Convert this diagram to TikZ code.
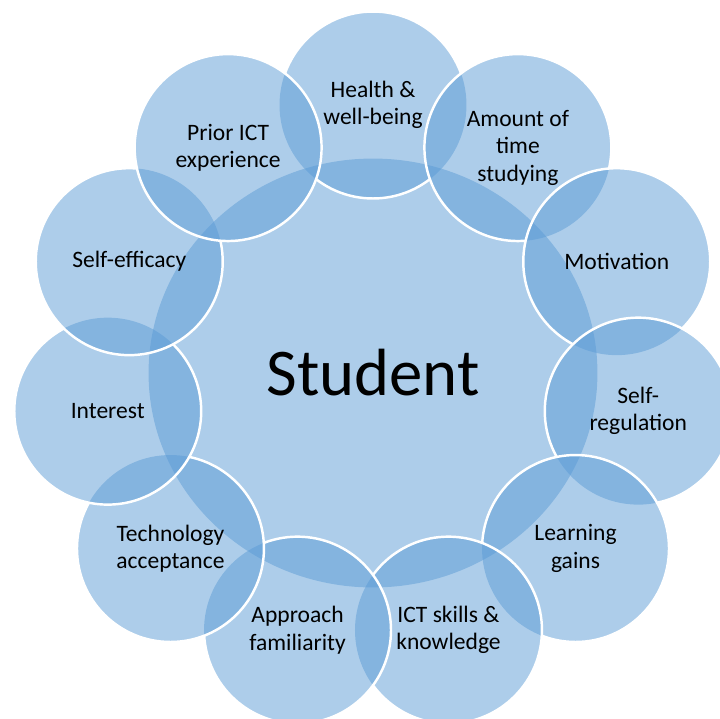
\documentclass[tikz,border=0pt]{standalone}
\usepackage{fontspec}
\setmainfont{Carlito}
\usetikzlibrary{shapes.geometric}
\definecolor{vennblue}{HTML}{5B9BD5}

\begin{document}
\begin{tikzpicture}[x=0.02cm, y=0.02cm, align=center,
  every node/.style={font=\fontsize{13.4}{15.6}\selectfont, text=black, text opacity=1},
  bubble/.style={circle, fill=vennblue, fill opacity=0.5, minimum size=3.74cm, inner sep=0pt},
  rim/.style={draw=white, line width=1.4pt}]

\useasboundingbox (-373,-345) rectangle (347,373);

% Centre
\node (student) [ellipse, fill=vennblue, fill opacity=0.5, minimum width=8.98cm, minimum height=8.58cm, inner sep=0pt, font=\fontsize{38}{40}\selectfont] at (0,0) {Student};

% Bubbles, clockwise from the top
\node (health) [bubble] at (90:268) {Health \&\\ well-being};
\node (amount) [bubble] at (57.27:268) {Amount of\\ time\\ studying};
\node (motiv) [bubble] at (24.55:268) {Motivation};
\node (selfreg) [bubble] at (-8.18:268) {Self-\\ regulation};
\node (gains) [bubble] at (-40.91:268) {Learning\\ gains};
\node (skills) [bubble] at (-73.64:268) {ICT skills \&\\ knowledge};
\node (approach) [bubble] at (-106.36:268) {Approach\\ familiarity};
\node (accept) [bubble] at (-139.09:268) {Technology\\ acceptance};
\node (interest) [bubble] at (-171.82:268) {Interest};
\node (efficacy) [bubble] at (155.45:268) {Self-efficacy};
\node (prior) [bubble] at (122.73:268) {Prior ICT\\ experience};

% Rims (each one hidden under the bubble laid after it)
\begin{scope}[even odd rule]
  \clip (-400,400) rectangle (400,-400) (amount.center) circle[radius=1.87cm] (prior.center) circle[radius=1.87cm];
  \draw[rim] (health.center) circle[radius=1.87cm];
\end{scope}
\foreach \cur/\nxt in {amount/motiv, motiv/selfreg, selfreg/gains, gains/skills, skills/approach, approach/accept, accept/interest, interest/efficacy, efficacy/prior}{
  \begin{scope}[even odd rule]
    \clip (-400,400) rectangle (400,-400) (\nxt.center) circle[radius=1.87cm];
    \draw[rim] (\cur.center) circle[radius=1.87cm];
  \end{scope}
}
\draw[rim] (prior.center) circle[radius=1.87cm];

\end{tikzpicture}
\end{document}
